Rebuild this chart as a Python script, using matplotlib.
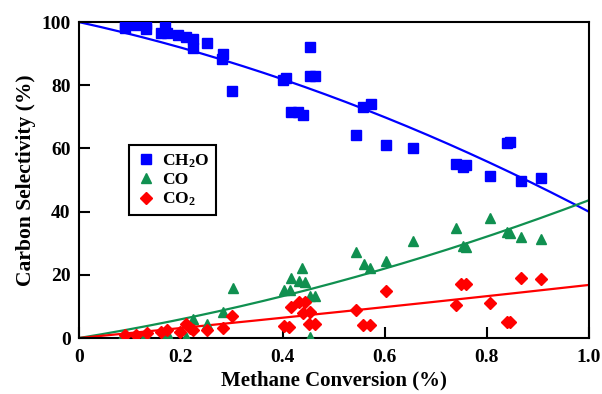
import numpy as np
import matplotlib
matplotlib.use("Agg")
import matplotlib.pyplot as plt

plt.rcParams['font.family'] = ['Liberation Serif', 'DejaVu Serif']
plt.rcParams['font.weight'] = 'bold'
plt.rcParams['mathtext.default'] = 'regular'

# CH2O selectivity
ch2o_x = [0.09, 0.09, 0.113, 0.131, 0.131, 0.169, 0.162, 0.172, 0.194, 0.211, 0.223, 0.223,
          0.252, 0.283, 0.28, 0.301, 0.453, 0.407, 0.40, 0.453, 0.463, 0.417, 0.43, 0.44,
          0.557, 0.573, 0.544, 0.602, 0.656, 0.74, 0.839, 0.846, 0.76, 0.753, 0.807, 0.868, 0.907]
ch2o_y = [99.4, 98.0, 99.0, 99.4, 97.8, 98.7, 96.4, 96.4, 95.9, 95.2, 94.5, 91.7,
          93.3, 89.9, 88.2, 78.3, 92.0, 82.2, 81.8, 82.8, 82.9, 71.6, 71.6, 70.6,
          73.0, 74.0, 64.2, 61.1, 60.0, 55.0, 61.6, 62.1, 54.7, 54.2, 51.3, 49.7, 50.7]

# CO selectivity
co_x = [0.087, 0.13, 0.172, 0.211, 0.223, 0.252, 0.282, 0.303, 0.438, 0.417, 0.432, 0.443,
        0.402, 0.414, 0.454, 0.463, 0.454, 0.544, 0.559, 0.571, 0.602, 0.656, 0.74, 0.807,
        0.76, 0.753, 0.839, 0.846, 0.868, 0.907]
co_y = [1.0, 1.0, 1.5, 0.4, 5.9, 4.6, 8.3, 15.7, 22.2, 18.9, 18.0, 17.8,
        15.2, 15.2, 13.3, 13.3, 0.2, 27.3, 23.3, 22.2, 24.5, 30.8, 34.7, 37.9,
        28.9, 29.0, 33.6, 33.3, 31.9, 31.2]

# CO2 selectivity
co2_x = [0.09, 0.113, 0.134, 0.162, 0.172, 0.198, 0.211, 0.218, 0.223, 0.252, 0.282, 0.301,
         0.402, 0.412, 0.417, 0.432, 0.443, 0.44, 0.454, 0.452, 0.463, 0.544, 0.557, 0.571,
         0.602, 0.74, 0.75, 0.759, 0.807, 0.839, 0.846, 0.868, 0.907]
co2_y = [1.0, 1.0, 1.5, 2.0, 2.5, 2.0, 4.6, 3.2, 2.5, 2.5, 3.1, 7.0,
         3.8, 3.6, 9.7, 11.5, 11.5, 7.8, 8.3, 4.6, 4.4, 8.9, 4.1, 4.1,
         15.0, 10.4, 17.0, 17.1, 11.2, 5.2, 5.2, 19.1, 18.6]

# fitted trend curves (c + a*x + b*x^2)
ch2o_fit = (100.0, -35.5, -24.5)
co_fit = (0.0, 26.2, 17.4)
co2_fit = (0.0, 15.6, 1.2)

fig = plt.figure(figsize=(6.02, 3.94), dpi=100)
ax = fig.add_axes([0.131, 0.142, 0.847, 0.802])

xf = np.linspace(0, 1, 200)
for (c, a, b), col in [(ch2o_fit, '#0000ff'), (co_fit, '#109050'), (co2_fit, '#ff0000')]:
    ax.plot(xf, c + a * xf + b * xf ** 2, color=col, linewidth=1.6, zorder=2)

ax.plot(ch2o_x, ch2o_y, 's', color='#0000ff', markersize=6.5, label='CH$_2$O', zorder=3)
ax.plot(co_x, co_y, '^', color='#109050', markersize=7, label='CO', zorder=3)
ax.plot(co2_x, co2_y, 'D', color='#ff0000', markersize=6, label='CO$_2$', zorder=3)

ax.set_xlim(0, 1.0)
ax.set_ylim(0, 100)
ax.set_xticks([0, 0.2, 0.4, 0.6, 0.8, 1.0])
ax.set_xticklabels(['0', '0.2', '0.4', '0.6', '0.8', '1.0'])
ax.set_yticks([0, 20, 40, 60, 80, 100])
ax.tick_params(direction='in', length=8, width=1.5, labelsize=14)
ax.tick_params(axis='x', pad=8)
ax.tick_params(axis='y', pad=6)
for s in ax.spines.values():
    s.set_linewidth(1.5)

ax.set_xlabel('Methane Conversion (%)', fontsize=15, fontweight='bold', labelpad=3)
ax.set_ylabel('Carbon Selectivity (%)', fontsize=15.5, fontweight='bold', labelpad=4)

leg = ax.legend(loc='upper left', bbox_to_anchor=(0.098, 0.61), fontsize=12.5,
                fancybox=False, edgecolor='black', framealpha=1, handletextpad=0.3,
                handlelength=1.2, borderpad=0.4, labelspacing=0.15, borderaxespad=0)
leg.get_frame().set_linewidth(1.5)

fig.savefig('out.png', dpi=100)
